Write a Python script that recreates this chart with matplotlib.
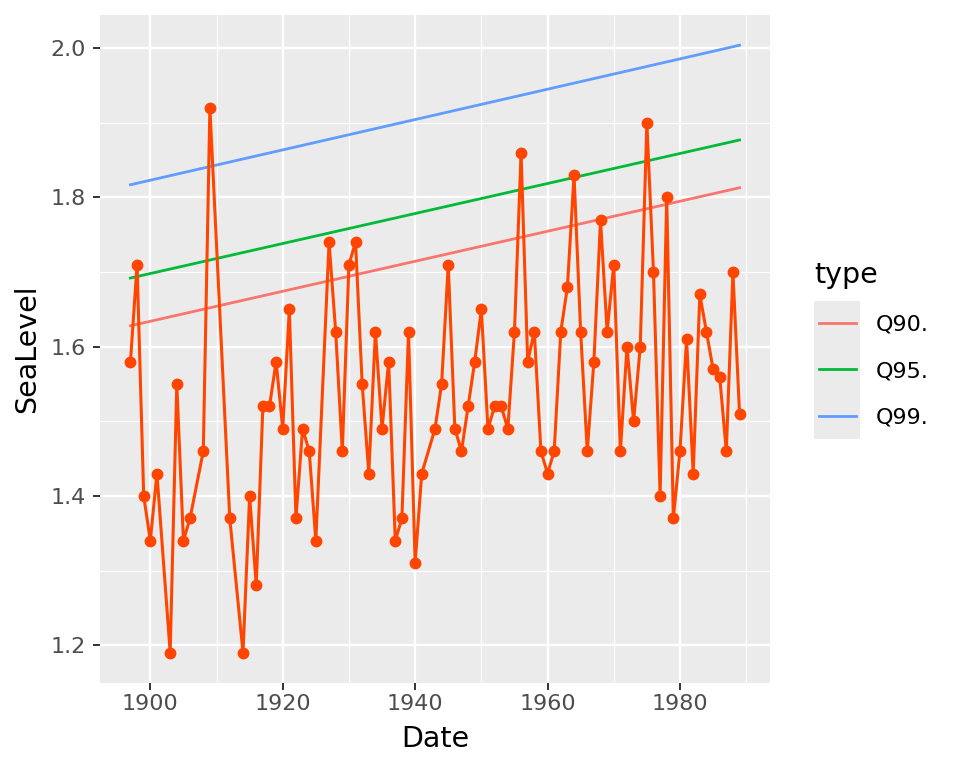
import numpy as np
import matplotlib.pyplot as plt
from matplotlib.patches import Rectangle
from matplotlib.lines import Line2D

# annual maximum sea level, Fremantle
years = [1897, 1898, 1899, 1900, 1901, 1903, 1904, 1905, 1906, 1908, 1909, 1912,
         1914, 1915, 1916, 1917, 1918, 1919, 1920, 1921, 1922, 1923, 1924, 1925,
         1927, 1928, 1929, 1930, 1931, 1932, 1933, 1934, 1935, 1936, 1937, 1938,
         1939, 1940, 1941, 1943, 1944, 1945, 1946, 1947, 1948, 1949, 1950, 1951,
         1952, 1953, 1954, 1955, 1956, 1957, 1958, 1959, 1960, 1961, 1962, 1963,
         1964, 1965, 1966, 1967, 1968, 1969, 1970, 1971, 1972, 1973, 1974, 1975,
         1976, 1977, 1978, 1979, 1980, 1981, 1982, 1983, 1984, 1985, 1986, 1987,
         1988, 1989]
sea_level = [1.58, 1.71, 1.40, 1.34, 1.43, 1.19, 1.55, 1.34, 1.37, 1.46, 1.92, 1.37,
             1.19, 1.40, 1.28, 1.52, 1.52, 1.58, 1.49, 1.65, 1.37, 1.49, 1.46, 1.34,
             1.74, 1.62, 1.46, 1.71, 1.74, 1.55, 1.43, 1.62, 1.49, 1.58, 1.34, 1.37,
             1.62, 1.31, 1.43, 1.49, 1.55, 1.71, 1.49, 1.46, 1.52, 1.58, 1.65, 1.49,
             1.52, 1.52, 1.49, 1.62, 1.86, 1.58, 1.62, 1.46, 1.43, 1.46, 1.62, 1.68,
             1.83, 1.62, 1.46, 1.58, 1.77, 1.62, 1.71, 1.46, 1.60, 1.50, 1.60, 1.90,
             1.70, 1.40, 1.80, 1.37, 1.46, 1.61, 1.43, 1.67, 1.62, 1.57, 1.56, 1.46,
             1.70, 1.51]

# quantile regression lines (fitted value at first and last year)
q_names = ['Q90.', 'Q95.', 'Q99.']
q_start = [1.628, 1.692, 1.817]
q_end = [1.813, 1.877, 2.004]
q_colors = ['#F8766D', '#00BA38', '#619CFF']

plt.rcParams['font.family'] = 'DejaVu Sans'

W, H = 960, 768
fig = plt.figure(figsize=(W / 100, H / 100), dpi=100)
ax = fig.add_axes([100 / W, 1 - 683 / H, 670 / W, 668 / H])
ax.set_facecolor('#EBEBEB')
for s in ax.spines.values():
    s.set_visible(False)

ax.set_xlim(1892.4, 1993.6)
ax.set_ylim(1.1493, 2.0445)
ax.set_xticks([1900, 1920, 1940, 1960, 1980])
ax.set_yticks([1.2, 1.4, 1.6, 1.8, 2.0])
ax.set_xticks([1910, 1930, 1950, 1970, 1990], minor=True)
ax.set_yticks([1.3, 1.5, 1.7, 1.9], minor=True)
ax.grid(which='major', color='white', linewidth=1.7)
ax.grid(which='minor', color='white', linewidth=0.85)
ax.set_axisbelow(True)
ax.tick_params(which='major', length=5, width=1.4, color='#333333',
               labelsize=16, labelcolor='#4D4D4D')
ax.tick_params(axis='x', pad=3)
ax.tick_params(axis='y', pad=5)
ax.tick_params(which='minor', length=0)

x_end = [years[0], years[-1]]
for name, a, b, c in zip(q_names, q_start, q_end, q_colors):
    ax.plot(x_end, [a, b], color=c, linewidth=2.0, zorder=2)

ax.plot(years, sea_level, '-o', color='#FF4500', linewidth=2.2,
        markersize=7.5, zorder=3)

fig.text(435 / W, 1 - 747 / H, 'Date', fontsize=20.5, ha='center', va='baseline')
fig.text(35 / W, 1 - 349 / H, 'SeaLevel', fontsize=20.5, rotation=90,
         rotation_mode='anchor', ha='center', va='baseline')

# legend drawn ggplot-style
fig.text(814 / W, 1 - 283 / H, 'type', fontsize=20.5, va='baseline', ha='left')
fig.patches.append(Rectangle((814 / W, 1 - 439 / H), 46 / W, 138 / H,
                             transform=fig.transFigure, facecolor='#EBEBEB',
                             edgecolor='none'))
key_y = [323, 369, 416]
for name, c, yk in zip(q_names, q_colors, key_y):
    fig.lines.append(Line2D([819 / W, 856 / W], [1 - yk / H, 1 - yk / H],
                            transform=fig.transFigure, color=c, linewidth=2.0))
    fig.text(876 / W, 1 - (yk + 8) / H, name, fontsize=16, va='baseline', ha='left')

fig.savefig('out.png', dpi=100)
